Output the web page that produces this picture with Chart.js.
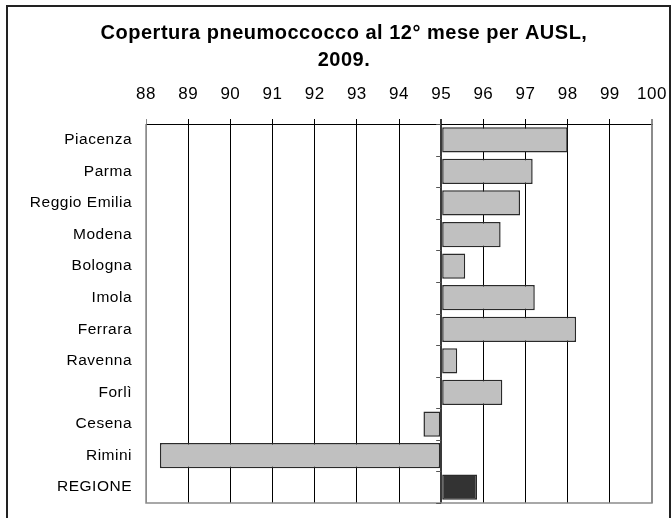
<!DOCTYPE html>
<html>
<head>
<meta charset="utf-8">
<script src="https://cdn.jsdelivr.net/npm/chart.js@4"></script>
<style>
  html, body { margin: 0; padding: 0; background: #fff; }
  #wrap { position: relative; width: 671px; height: 518px; overflow: hidden; }
  #frame { position: absolute; left: 6px; top: 5px; width: 665px; height: 530px; border: 2px solid #222; box-sizing: border-box; }
  canvas { position: absolute; left: 0; top: 0; }
</style>
</head>
<body>
<div id="wrap">
  <div id="frame"></div>
  <canvas id="c" width="671" height="518"></canvas>
</div>
<script>
const titleLines = ["Copertura pneumoccocco al 12° mese per AUSL,", "2009."];
const categories = ["Piacenza", "Parma", "Reggio Emilia", "Modena", "Bologna", "Imola", "Ferrara", "Ravenna", "Forlì", "Cesena", "Rimini", "REGIONE"];
const coverage = [98.0, 97.17, 96.87, 96.41, 95.57, 97.22, 98.2, 95.38, 96.45, 94.58, 88.33, 95.85];
const baseValue = 95;
const axisMin = 88;
const axisMax = 100;

const FONT = "'Liberation Sans', Arial, sans-serif";
const barColors = categories.map(c => c === "REGIONE" ? "#333333" : "#C0C0C0");

const spacingPlugin = {
  id: 'spacingPlugin',
  afterLayout(chart) {
    if (chart.titleBlock) {
      chart.titleBlock.left = 36;
      chart.titleBlock.width = chart.titleBlock.right - 36;
    }
  },
  beforeDraw(chart) { chart.ctx.letterSpacing = '0.5px'; },
  beforeDatasetsDraw(chart) { chart.ctx.letterSpacing = '0px'; }
};

const framePlugin = {
  id: 'framePlugin',
  afterDraw(chart) {
    const ctx = chart.ctx;
    const a = chart.chartArea;
    const x = chart.scales.x, y = chart.scales.y;
    ctx.save();
    ctx.strokeStyle = '#8c8c8c';
    ctx.lineWidth = 1.5;
    ctx.beginPath();
    ctx.moveTo(a.left, a.top);
    ctx.lineTo(a.left, a.bottom);
    ctx.lineTo(a.right, a.bottom);
    ctx.lineTo(a.right, a.top);
    ctx.stroke();
    const bx = x.getPixelForValue(baseValue);
    ctx.strokeStyle = '#555';
    ctx.lineWidth = 1;
    const n = categories.length;
    for (let i = 0; i <= n; i++) {
      const yy = Math.round(y.top + (y.bottom - y.top) * i / n) + 0.5;
      ctx.beginPath();
      ctx.moveTo(bx - 5, yy);
      ctx.lineTo(bx, yy);
      ctx.stroke();
    }
    ctx.restore();
  }
};

new Chart(document.getElementById('c'), {
  type: 'bar',
  data: {
    labels: categories,
    datasets: [{
      data: coverage,
      base: baseValue,
      backgroundColor: barColors,
      borderColor: '#2a2a2a',
      borderWidth: 1.5,
      borderSkipped: false,
      barPercentage: 0.8,
      categoryPercentage: 1.0
    }]
  },
  options: {
    indexAxis: 'y',
    responsive: false,
    animation: false,
    devicePixelRatio: 1,
    layout: { padding: { left: 16, right: 19, top: 6, bottom: 15 } },
    plugins: {
      legend: { display: false },
      tooltip: { enabled: false },
      title: {
        display: true,
        text: titleLines,
        color: '#000',
        font: { family: FONT, size: 20, weight: 'bold', lineHeight: 1.35 },
        padding: { top: 14, bottom: 11 }
      }
    },
    scales: {
      x: {
        position: 'top',
        min: axisMin,
        max: axisMax,
        afterFit(scale) {
          scale.height = 39;
          scale.paddingLeft = 0;
          scale.paddingRight = 0;
        },
        ticks: {
          stepSize: 1,
          color: '#000',
          font: { family: FONT, size: 17 },
          padding: 14,
          maxRotation: 0
        },
        grid: {
          color: ctx => {
            const v = ctx.tick && ctx.tick.value;
            if (v === axisMin || v === axisMax) return '#8c8c8c';
            if (v === baseValue) return '#3a3a3a';
            return '#000';
          },
          lineWidth: ctx => {
            const v = ctx.tick && ctx.tick.value;
            if (v === baseValue) return 2;
            if (v === axisMax) return 2;
            return 1;
          },
          tickLength: 5,
          drawTicks: true
        },
        border: { display: true, color: '#000', width: 1 }
      },
      y: {
        afterFit(scale) {
          scale.width = 130;
          scale.paddingTop = 0;
          scale.paddingBottom = 0;
        },
        ticks: {
          color: '#000',
          font: { family: FONT, size: 15.5 },
          padding: 14
        },
        grid: { display: false, drawTicks: false },
        border: { display: false }
      }
    }
  },
  plugins: [spacingPlugin, framePlugin]
});
</script>
</body>
</html>
